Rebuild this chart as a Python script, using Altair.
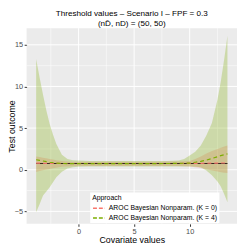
import altair as alt
import pandas as pd

# ---- data ----
xs = [-3.82, -3.5, -3.2, -2.9, -2.6, -2.3, -2.0, -1.5, -1.0, -0.5, 0, 1, 2, 3, 4, 5, 6, 7, 8, 9,
      9.5, 10, 10.5, 11, 11.5, 12, 12.5, 12.8, 13.1, 13.4]

k4_hi = [13.3, 11.0, 9.0, 7.1, 5.5, 4.2, 3.1, 1.8, 1.3, 1.15, 1.1, 1.05, 1.05, 1.05, 1.05, 1.05, 1.05, 1.05, 1.05, 1.1,
         1.3, 1.7, 2.15, 2.9, 4.1, 5.6, 8.4, 10.6, 13.2, 16.1]
k4_lo = [-5.1, -4.1, -3.1, -2.6, -2.1, -1.5, -0.9, -0.25, 0.15, 0.3, 0.35, 0.4, 0.4, 0.4, 0.4, 0.4, 0.4, 0.4, 0.4, 0.4,
         0.4, 0.4, 0.35, 0.3, -0.1, -0.65, -1.4, -2.0, -2.9, -3.9]
k4_est = [1.2, 1.12, 1.05, 0.97, 0.9, 0.85, 0.8, 0.75, 0.74, 0.74, 0.74, 0.74, 0.74, 0.74, 0.74, 0.74, 0.74, 0.74, 0.75, 0.76,
          0.78, 0.8, 0.9, 1.0, 1.15, 1.35, 1.55, 1.7, 1.8, 1.9]

k0_hi = [1.6, 1.52, 1.45, 1.38, 1.3, 1.22, 1.15, 1.05, 1.0, 0.97, 0.95, 0.95, 0.95, 0.95, 0.95, 0.95, 0.95, 0.97, 1.0, 1.0,
         1.02, 1.05, 1.3, 1.6, 1.95, 2.25, 2.5, 2.65, 2.8, 2.9]
k0_lo = [-0.26, -0.15, -0.05, 0.03, 0.1, 0.18, 0.25, 0.35, 0.4, 0.43, 0.45, 0.45, 0.45, 0.45, 0.45, 0.45, 0.45, 0.45, 0.45, 0.45,
         0.43, 0.4, 0.3, 0.2, 0.05, -0.1, -0.2, -0.3, -0.35, -0.4]
k0_est = [0.8, 0.79, 0.78, 0.77, 0.77, 0.76, 0.76, 0.75, 0.75, 0.75, 0.75, 0.75, 0.75, 0.75, 0.75, 0.75, 0.75, 0.75, 0.75, 0.75,
          0.76, 0.76, 0.77, 0.77, 0.78, 0.79, 0.8, 0.81, 0.81, 0.82]

true_val = [0.74] * len(xs)

approaches = ["AROC Bayesian Nonparam. (K = 0)", "AROC Bayesian Nonparam. (K = 4)"]
colors = ["#F8766D", "#7CAE00"]

x_major = [0, 5, 10]
x_minor = [-2.5, 2.5, 7.5, 12.5]
y_major = [-5, 0, 5, 10, 15]
y_minor = [-2.5, 2.5, 7.5, 12.5]

title_lines = ["Threshold values \u2013 Scenario I \u2013 FPF = 0.3", "(nD\u0304, nD) = (50, 50)"]

# ---- tables ----
band_k0 = pd.DataFrame({"x": xs, "lo": k0_lo, "hi": k0_hi})
band_k4 = pd.DataFrame({"x": xs, "lo": k4_lo, "hi": k4_hi})
lines = pd.concat([
    pd.DataFrame({"x": xs, "y": k0_est, "Approach": approaches[0]}),
    pd.DataFrame({"x": xs, "y": k4_est, "Approach": approaches[1]}),
])
truth = pd.DataFrame({"x": xs, "y": true_val})

FONT = "Liberation Sans"
xscale = alt.Scale(domain=[-4.68, 14.26], nice=False, zero=False)
yscale = alt.Scale(domain=[-6.5, 17.0], nice=False, zero=False)

xaxis = alt.Axis(values=x_major, title="Covariate values", grid=False, domain=False,
                 tickColor="#333333", tickSize=2.5, labelColor="#4D4D4D", labelFontSize=7.5,
                 labelPadding=1.5, titleFontSize=9, titleFontWeight="normal", titleColor="black",
                 titlePadding=1, labelFont=FONT, titleFont=FONT)
yaxis = alt.Axis(values=y_major, title="Test outcome", grid=False, domain=False,
                 tickColor="#333333", tickSize=2.5, labelColor="#4D4D4D", labelFontSize=7.5,
                 labelPadding=1.5, titleFontSize=9, titleFontWeight="normal", titleColor="black",
                 titleX=-10, titleY=100, titleBaseline="bottom", titleAngle=270,
                 labelFont=FONT, titleFont=FONT)

gx_minor = alt.Chart(pd.DataFrame({"v": x_minor})).mark_rule(color="white", strokeWidth=0.5).encode(
    x=alt.X("v:Q", scale=xscale, axis=xaxis))
gx_major = alt.Chart(pd.DataFrame({"v": x_major})).mark_rule(color="white", strokeWidth=1).encode(
    x=alt.X("v:Q", scale=xscale))
gy_minor = alt.Chart(pd.DataFrame({"v": y_minor})).mark_rule(color="white", strokeWidth=0.5).encode(
    y=alt.Y("v:Q", scale=yscale, axis=yaxis))
gy_major = alt.Chart(pd.DataFrame({"v": y_major})).mark_rule(color="white", strokeWidth=1).encode(
    y=alt.Y("v:Q", scale=yscale))

band0 = alt.Chart(band_k0).mark_area(color=colors[0], opacity=0.28).encode(
    x=alt.X("x:Q", scale=xscale), y=alt.Y("lo:Q", scale=yscale), y2="hi:Q")
band4 = alt.Chart(band_k4).mark_area(color=colors[1], opacity=0.28).encode(
    x=alt.X("x:Q", scale=xscale), y=alt.Y("lo:Q", scale=yscale), y2="hi:Q")

truth_layer = alt.Chart(truth).mark_line(color="#3a2a22", strokeWidth=1.1).encode(
    x=alt.X("x:Q", scale=xscale), y=alt.Y("y:Q", scale=yscale))

line_layer = alt.Chart(lines).mark_line(strokeWidth=1.2, strokeDash=[4, 3]).encode(
    x=alt.X("x:Q", scale=xscale),
    y=alt.Y("y:Q", scale=yscale),
    color=alt.Color("Approach:N", scale=alt.Scale(domain=approaches, range=colors),
                    legend=alt.Legend(title="Approach", orient="none", legendX=65, legendY=168,
                                      symbolType="stroke", symbolStrokeWidth=1.4,
                                      symbolDash=[4, 2], symbolSize=150, fillColor="white",
                                      padding=2, titleFontSize=7, titleFontWeight="normal",
                                      titleFont=FONT, labelFont=FONT, labelFontSize=7,
                                      titlePadding=0, rowPadding=0, labelOffset=3,
                                      titleColor="black", labelColor="black")),
)

chart = alt.layer(gx_minor, gx_major, gy_minor, gy_major, band0, band4, truth_layer, line_layer).properties(
    width=215, height=200,
    title=alt.TitleParams(text=title_lines, fontSize=8.3, font=FONT, fontWeight="normal",
                          anchor="middle", offset=0, lineHeight=11, color="black"),
    autosize=alt.AutoSizeParams(type="none"),
    padding={"left": 19, "top": 18, "right": 0, "bottom": 19},
).configure_view(fill="#EBEBEB", strokeWidth=0)

chart.save("out.html", embed_options={"renderer": "svg", "actions": False})
